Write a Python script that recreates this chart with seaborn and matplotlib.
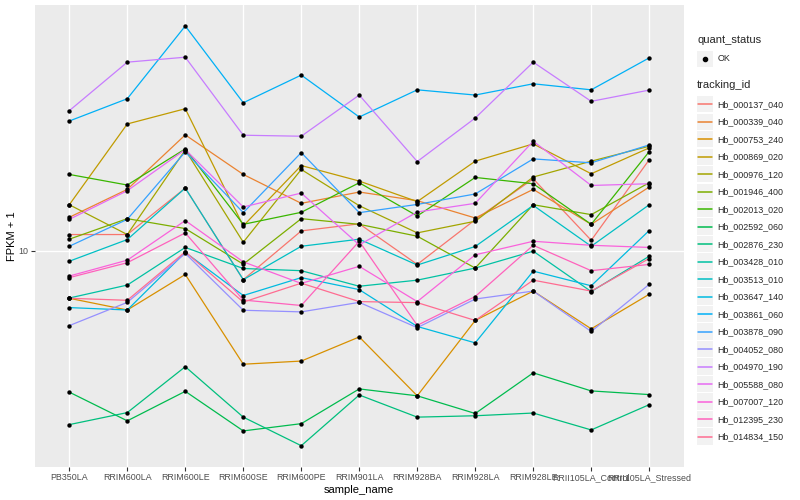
import numpy as np
import pandas as pd
import matplotlib
matplotlib.use("Agg")
import matplotlib.pyplot as plt
import seaborn as sns
from matplotlib.legend_handler import HandlerBase
from matplotlib.patches import Rectangle
from matplotlib.lines import Line2D
from matplotlib.ticker import FixedLocator, NullLocator, FixedFormatter

samples = ["PB350LA", "RRIM600LA", "RRIM600LE", "RRIM600SE", "RRIM600PE", "RRIM901LA",
           "RRIM928BA", "RRIM928LA", "RRIM928LE", "RRII105LA_Control", "RRII105LA_Stressed"]

tracking_ids = ["Hb_000137_040", "Hb_000339_040", "Hb_000753_240", "Hb_000869_020",
                "Hb_000976_120", "Hb_001946_400", "Hb_002013_020", "Hb_002592_060",
                "Hb_002876_230", "Hb_003428_010", "Hb_003513_010", "Hb_003647_140",
                "Hb_003861_060", "Hb_003878_090", "Hb_004052_080", "Hb_004970_190",
                "Hb_005588_080", "Hb_007007_120", "Hb_012395_230", "Hb_014834_150"]

palette_hex = ["#F8766D", "#EA8331", "#D89000", "#C09B00", "#A3A500", "#7CAE00", "#39B600",
               "#00BB4E", "#00BF7D", "#00C1A3", "#00BFC4", "#00BAE0", "#00B0F6", "#35A2FF",
               "#9590FF", "#C77CFF", "#E76BF3", "#FA62DB", "#FF62BC", "#FF6C91"]

# FPKM + 1 per sample (order of `samples`)
Hb_000137_040 = [10.85, 10.85, 13.70, 8.65, 11.05, 11.45, 9.34, 11.69, 14.35, 10.54, 15.79]
Hb_000339_040 = [11.83, 13.61, 17.89, 14.67, 12.69, 13.43, 12.86, 11.79, 13.61, 11.42, 13.77]
Hb_000753_240 = [7.88, 7.43, 8.88, 5.66, 5.75, 6.49, 4.83, 7.05, 8.17, 6.76, 8.04]
Hb_000869_020 = [12.60, 18.90, 20.40, 11.33, 15.34, 14.19, 12.80, 15.68, 17.10, 14.72, 16.76]
Hb_000976_120 = [12.60, 10.85, 16.59, 10.44, 15.04, 12.54, 10.94, 11.60, 14.48, 15.68, 16.90]
Hb_001946_400 = [10.60, 11.75, 11.18, 9.35, 11.75, 11.42, 10.76, 9.17, 12.60, 11.99, 14.07]
Hb_002013_020 = [14.67, 13.91, 16.68, 11.42, 12.13, 14.07, 11.91, 14.45, 14.00, 11.42, 16.45]
Hb_002592_060 = [4.92, 4.26, 4.94, 4.05, 4.20, 5.00, 4.83, 4.42, 5.42, 4.95, 4.86]
Hb_002876_230 = [4.18, 4.44, 5.59, 4.34, 3.76, 4.85, 4.34, 4.37, 4.43, 4.07, 4.62]
Hb_003428_010 = [7.89, 8.42, 10.17, 9.15, 9.05, 8.37, 8.63, 9.17, 9.98, 8.15, 9.73]
Hb_003513_010 = [9.49, 10.58, 13.70, 8.65, 10.23, 10.60, 9.31, 10.22, 12.56, 10.23, 12.60]
Hb_003647_140 = [7.52, 7.43, 9.92, 7.99, 8.74, 8.23, 6.84, 6.30, 9.03, 8.39, 11.07]
Hb_003861_060 = [19.18, 21.45, 30.90, 21.02, 24.15, 19.57, 22.43, 21.85, 23.12, 22.43, 26.33]
Hb_003878_090 = [10.23, 11.71, 16.43, 12.11, 16.37, 12.11, 12.62, 13.30, 15.86, 15.55, 17.01]
Hb_004052_080 = [6.87, 7.72, 9.87, 7.42, 7.36, 7.72, 6.80, 7.85, 8.17, 6.67, 8.45]
Hb_004970_190 = [20.20, 25.77, 26.42, 17.86, 17.77, 21.85, 15.65, 19.47, 25.77, 21.17, 22.40]
Hb_005588_080 = [11.71, 13.52, 16.62, 12.46, 13.36, 10.30, 12.15, 12.69, 17.33, 13.88, 14.00]
Hb_007007_120 = [8.81, 9.54, 11.64, 9.46, 8.49, 9.25, 7.75, 9.80, 10.49, 10.28, 10.17]
Hb_012395_230 = [8.74, 9.42, 10.94, 7.81, 7.60, 10.49, 6.88, 7.95, 10.28, 9.05, 9.34]
Hb_014834_150 = [7.88, 7.80, 9.95, 7.73, 8.50, 7.75, 7.71, 7.05, 8.63, 8.17, 9.62]

series = [Hb_000137_040, Hb_000339_040, Hb_000753_240, Hb_000869_020, Hb_000976_120,
          Hb_001946_400, Hb_002013_020, Hb_002592_060, Hb_002876_230, Hb_003428_010,
          Hb_003513_010, Hb_003647_140, Hb_003861_060, Hb_003878_090, Hb_004052_080,
          Hb_004970_190, Hb_005588_080, Hb_007007_120, Hb_012395_230, Hb_014834_150]

rows = []
for tid, vals in zip(tracking_ids, series):
    for s, v in zip(samples, vals):
        rows.append({"tracking_id": tid, "sample_name": s, "fpkm1": v, "quant_status": "OK"})
df = pd.DataFrame(rows)
df["xpos"] = df["sample_name"].map({s: i for i, s in enumerate(samples)})

sns.set_theme(style="darkgrid")
plt.rcParams["font.family"] = ["Liberation Sans", "DejaVu Sans"]

fig = plt.figure(figsize=(8, 5), dpi=100)
ax = fig.add_axes([34.5 / 800, 1 - 466.7 / 500, (684 - 34.5) / 800, (466.7 - 5) / 500])
ax.set_facecolor("#EBEBEB")

palette = dict(zip(tracking_ids, palette_hex))
sns.lineplot(data=df, x="xpos", y="fpkm1", hue="tracking_id", hue_order=tracking_ids,
             palette=palette, sort=True, estimator=None, lw=0.9, legend=False, ax=ax)
sns.scatterplot(data=df, x="xpos", y="fpkm1", color="black", s=10, linewidth=0,
                legend=False, ax=ax, zorder=5)

ax.set_yscale("log")
lo, hi = np.log10(df["fpkm1"].min()), np.log10(df["fpkm1"].max())
pad = 0.05 * (hi - lo)
ax.set_ylim(10 ** (lo - pad), 10 ** (hi + pad))
ax.set_xlim(-0.6, len(samples) - 1 + 0.6)

ax.xaxis.set_major_locator(FixedLocator(range(len(samples))))
ax.xaxis.set_major_formatter(FixedFormatter(samples))
ax.yaxis.set_major_locator(FixedLocator([10]))
ax.yaxis.set_major_formatter(FixedFormatter(["10"]))
ax.yaxis.set_minor_locator(NullLocator())
ax.xaxis.set_minor_locator(NullLocator())

ax.grid(True, which="major", color="white", lw=1.0)
ax.set_axisbelow(True)
for sp in ax.spines.values():
    sp.set_visible(False)
ax.tick_params(axis="both", which="major", length=2.7, width=0.8, color="#333333",
               labelsize=6.4, labelcolor="#4D4D4D", pad=2, bottom=True, left=True)
ax.set_xlabel("sample_name", fontsize=8, color="black", labelpad=2)
ax.set_ylabel("FPKM + 1", fontsize=8, color="black", labelpad=1)


class KeyHandler(HandlerBase):
    def __init__(self, kind):
        super().__init__()
        self.kind = kind

    def create_artists(self, legend, orig_handle, xdescent, ydescent, width, height,
                       fontsize, trans):
        rect = Rectangle((-xdescent, -ydescent), width, height, facecolor="#F2F2F2",
                         edgecolor="none", transform=trans)
        if self.kind == "line":
            art = Line2D([-xdescent + 1, -xdescent + width - 1],
                         [-ydescent + height / 2] * 2, color=orig_handle.get_color(),
                         lw=1.1, transform=trans)
        else:
            art = Line2D([-xdescent + width / 2], [-ydescent + height / 2], marker="o",
                         color="black", markersize=3.0, ls="none", transform=trans)
        return [rect, art]


common = dict(loc="upper left", frameon=False, borderpad=0, borderaxespad=0,
              handlelength=1.85, handleheight=2.45, handletextpad=0.45, labelspacing=0.13,
              fontsize=6.4, title_fontsize=8, alignment="left")

h1 = [Line2D([], [], color="black")]
leg1 = fig.legend(h1, ["OK"], title="quant_status", bbox_to_anchor=(697 / 800, 1 - 35 / 500),
                  handler_map={Line2D: KeyHandler("point")}, **common)
h2 = [Line2D([], [], color=c) for c in palette_hex]
leg2 = fig.legend(h2, tracking_ids, title="tracking_id", bbox_to_anchor=(697 / 800, 1 - 80.5 / 500),
                  handler_map={Line2D: KeyHandler("line")}, **common)
for lg in (leg1, leg2):
    lg._legend_box.sep = 4

fig.savefig("out.png", dpi=100, facecolor="white")
